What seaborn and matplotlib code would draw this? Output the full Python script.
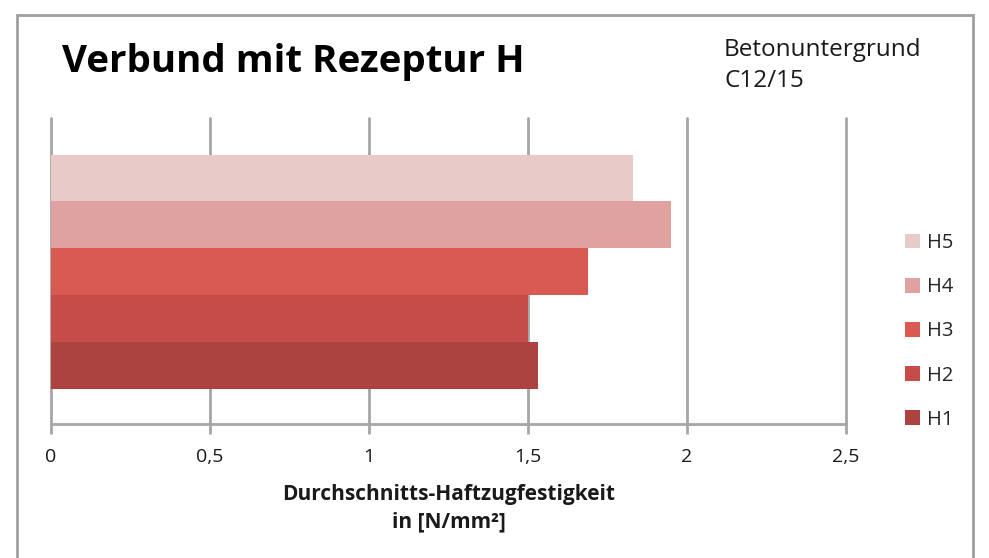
import numpy as np
import pandas as pd
import matplotlib
matplotlib.use('Agg')
import matplotlib.pyplot as plt
import seaborn as sns
from matplotlib.patches import Rectangle

# data
serien = ['H5', 'H4', 'H3', 'H2', 'H1']
werte = [1.83, 1.95, 1.69, 1.50, 1.53]
farben = ['#E8CBC9', '#E0A2A0', '#D85A53', '#C54C48', '#AD4340']
xticks = [0, 0.5, 1, 1.5, 2, 2.5]
xtick_labels = ['0', '0,5', '1', '1,5', '2', '2,5']

df = pd.DataFrame({'gruppe': ['C12/15'] * len(serien), 'serie': serien, 'wert': werte})

sns.set_theme(style='white')
plt.rcParams['font.family'] = ['Open Sans', 'DejaVu Sans']

fig = plt.figure(figsize=(9.89, 5.58), dpi=100)
ax = fig.add_axes([51 / 989, 1 - 424 / 558, (846 - 51) / 989, (424 - 118) / 558])

sns.barplot(data=df, x='wert', y='gruppe', hue='serie', hue_order=serien,
            palette=farben, orient='h', width=0.8, saturation=1, ax=ax, legend=True)
for p in ax.patches:
    p.set_edgecolor('none')

ax.set_xlim(0, 2.5)
ax.set_ylim(0.52, -0.525)
ax.set_xticks(xticks)
ax.set_xticklabels(xtick_labels, fontsize=14, color='#1a1a1a')
ax.set_yticks([])
ax.set_ylabel('')
ax.set_xlabel('Durchschnitts-Haftzugfestigkeit\nin [N/mm²]', fontsize=15, fontweight='bold',
              color='#1a1a1a', labelpad=13, linespacing=1.4)
ax.grid(axis='x', color='#A6A6A6', linewidth=2)
for gl in ax.get_xgridlines():
    gl.set_clip_on(False)
ax.set_axisbelow(True)
for s in ['top', 'right', 'left']:
    ax.spines[s].set_visible(False)
ax.spines['bottom'].set_color('#A6A6A6')
ax.spines['bottom'].set_linewidth(2)
ax.tick_params(axis='x', bottom=True, direction='out', length=7, width=2,
               color='#A6A6A6', pad=10)

h, l = ax.get_legend_handles_labels()
ax.get_legend().remove()
fig.legend(h, l, loc='upper left', bbox_to_anchor=(897 / 989, 1 - 225 / 558), frameon=False,
           fontsize=14.5, handlelength=0.75, handleheight=0.75, handletextpad=0.35,
           labelspacing=1.2, borderaxespad=0)

fig.text(62 / 989, 1 - 62 / 558, 'Verbund mit Rezeptur H', fontsize=27.7, fontweight='bold',
         va='center', ha='left', color='black')
fig.text(724 / 989, 1 - 38 / 558, 'Betonuntergrund\nC12/15', fontsize=17.5, va='top', ha='left',
         color='#1a1a1a', linespacing=1.4)

fig.patches.append(Rectangle((17 / 989, -0.05), (973 - 17) / 989, 1.05 - 15 / 558,
                             transform=fig.transFigure, fill=False, edgecolor='#A0A0A0',
                             linewidth=2))

fig.savefig('out.png', dpi=100)
